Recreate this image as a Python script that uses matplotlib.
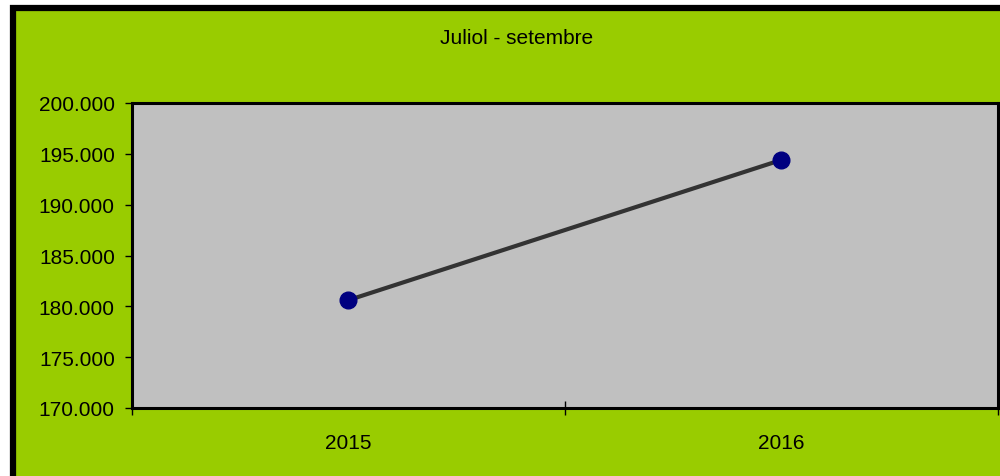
import matplotlib
matplotlib.use("Agg")
import matplotlib.pyplot as plt
from matplotlib.patches import Rectangle
from matplotlib.ticker import FuncFormatter, FixedLocator

plt.rcParams['font.family'] = ['Liberation Sans', 'DejaVu Sans']

title = "Juliol - setembre"
categories = ["2015", "2016"]
values = [180600, 194400]
y_ticks = [170000, 175000, 180000, 185000, 190000, 195000, 200000]

fig = plt.figure(figsize=(10, 4.77), dpi=100)
fig.patch.set_facecolor('white')

# outer chart frame
frame = Rectangle((0.013, -0.1), 1.2, 1.1 - 9/477, transform=fig.transFigure,
                  facecolor='#99CC00', edgecolor='black', linewidth=4.5, zorder=-10)
fig.patches.append(frame)

ax = fig.add_axes([0.1315, 1 - 409/477, 0.998 - 0.1315, (409 - 104)/477])
ax.set_zorder(5)
ax.set_facecolor('#C0C0C0')

xs = [i + 0.5 for i in range(len(categories))]
ax.plot(xs, values, color='#333333', linewidth=3, zorder=2)
ax.plot(xs, values, linestyle='none', marker='o', markersize=12,
        markerfacecolor='#000080', markeredgecolor='#000080', zorder=3)

ax.set_xlim(0, len(categories))
ax.set_ylim(170000, 200000)
ax.set_yticks(y_ticks)
ax.yaxis.set_major_formatter(FuncFormatter(lambda v, p: f"{int(v):,}".replace(",", ".")))

ax.set_xticks(range(len(categories) + 1))
ax.set_xticklabels([])
ax.xaxis.set_minor_locator(FixedLocator(xs))
ax.set_xticklabels(categories, minor=True)

ax.tick_params(axis='y', direction='out', length=5, width=1, pad=7, labelsize=15)
ax.tick_params(axis='x', which='major', direction='inout', length=10, width=1)
ax.tick_params(axis='x', which='minor', length=0, pad=18, labelsize=15)

for s in ax.spines.values():
    s.set_linewidth(2.2)
    s.set_color('black')

fig.text(0.517, 1 - 38/477, title, ha='center', va='center', fontsize=15, zorder=6)

fig.savefig('out.png', dpi=100, facecolor=fig.get_facecolor())
